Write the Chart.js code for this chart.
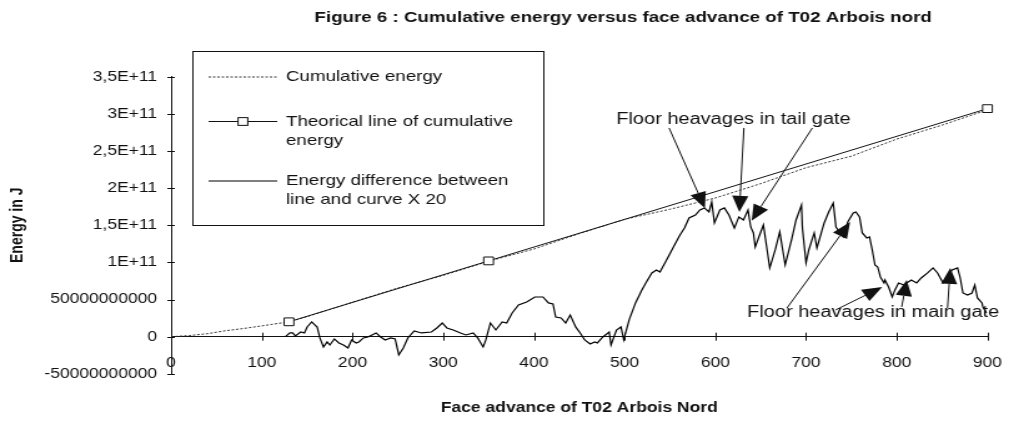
<!DOCTYPE html>
<html>
<head>
<meta charset="utf-8">
<title>Figure 6</title>
<script src="https://cdn.jsdelivr.net/npm/chart.js@4.4.0/dist/chart.umd.min.js"></script>
<style>
  html, body { margin: 0; padding: 0; background: #fff; }
  #energyChart { display: block; }
</style>
</head>
<body>
<!-- the scan is wider than tall, so the 820px canvas is stretched to 1024px -->
<canvas id="energyChart" width="820" height="425" style="width:1024px;height:425px"></canvas>
<script>
const GJ = 1e9;

// Cumulative energy (GJ) against face advance (m)
const cumAdvance = [0, 20, 40, 60, 80, 100, 130, 150, 200, 250, 300, 350, 400, 450, 500, 550, 600, 650, 700, 750, 800, 850, 900];
const cumEnergy = [0, 1.5, 4, 8, 11, 14.5, 20, 27, 46.5, 65.5, 82.5, 101.5, 118, 138.7, 158, 171.5, 186.7, 206, 227.5, 243, 266, 284.8, 305.4];

// Theorical line (GJ)
const theoAdvance = [130, 350, 900];
const theoEnergy = [20, 102, 307];

// Energy difference x 20 (GJ)
const diffAdvance = [
  126, 131, 134, 137, 143, 147, 150, 155, 161, 164,
  168, 172, 175, 180, 185, 190, 195, 199, 204, 207,
  212, 217, 226, 231, 236, 242, 247, 251, 256, 261,
  268, 276, 287, 293, 299, 304, 311, 319, 325, 333,
  338, 344, 347, 352, 358, 365, 370, 376, 383, 392,
  401, 410, 416, 421, 424, 430, 435, 440, 446, 451,
  456, 462, 467, 470, 476, 483, 485, 491, 496, 499,
  505, 512, 519, 524, 530, 535, 539, 542, 548, 555,
  561, 566, 571, 578, 583, 588, 593, 596, 599, 605,
  610, 615, 621, 626, 631, 636, 639, 642, 644, 648,
  653, 660, 666, 671, 677, 684, 689, 695, 696, 700,
  703, 709, 712, 720, 725, 730, 733, 741, 746, 752,
  755, 759, 762, 767, 770, 773, 776, 779, 782, 786,
  787, 791, 795, 798, 802, 808, 811, 816, 822, 827,
  834, 840, 845, 851, 856, 861, 867, 870, 873, 878,
  883, 886, 889, 894, 895, 899
];
const diffEnergy = [
  0, 5, 5, 1, 6.3, 5, 13, 19.8, 13, -1.7,
  -13.9, -7.1, -11.2, -3.1, -8.5, -11.2, -15.2, -4.4, -8.5, -7.1,
  -1.7, -0.4, 5, -0.4, -4.4, -1.7, -3.1, -24.6, -15.2, -1.7,
  7.7, 5, 6.3, 11.7, 18.4, 11.7, 9, 5, 2.3, 5,
  -1.7, -13.9, -4.4, 18.4, 9, 19.8, 18.4, 31.9, 42.7, 46.7,
  53.4, 53.4, 45.4, 44, 26.5, 25.2, 18.4, 29.2, 13.1, 5,
  -4.4, -9.8, -7.1, -8.5, -0.4, 6.3, -11.2, 9, 13.1, -4.4,
  22.5, 45.4, 62.9, 73.6, 85.8, 89.8, 87.1, 93.8, 107.3, 123.5,
  136.9, 146.3, 159.8, 163.8, 170.6, 173.3, 167.9, 181.3, 153.1, 170.6,
  173.3, 163.8, 146.3, 161.2, 157.1, 170.6, 147.7, 139.6, 120.8, 134.2,
  150.4, 92.5, 116.7, 141, 96.5, 130.2, 157.1, 177.3, 146.3, 99.2,
  116.7, 139.6, 119.4, 153.1, 167.9, 180, 147.7, 134.2, 154.4, 166.5,
  167.9, 161.2, 139.6, 132.9, 134.2, 116.7, 96.5, 93.8, 80.4, 72.3,
  76.3, 66.9, 53.4, 62.9, 72.3, 69.6, 72.3, 76.3, 72.3, 79,
  85.8, 92.5, 85.8, 72.3, 80.4, 89.8, 92.5, 79, 58.8, 56.1,
  58.8, 69.6, 52.1, 45.4, 40, 31.9
];

const yTickLabels = ['-50000000000', '0', '50000000000', '1E+11', '1,5E+11', '2E+11', '2,5E+11', '3E+11', '3,5E+11'];

const legendText = [
  ['Cumulative energy'],
  ['Theorical line of cumulative', 'energy'],
  ['Energy difference between', 'line and curve X 20']
];

// annotation text and arrows, in data units [advance, GJ]
const annotations = [
  { text: 'Floor heavages in tail gate', at: [620, 292],
    arrows: [[[549, 281], [588.5, 173]], [[631.5, 281], [626.5, 168]], [[707, 281], [640, 156]]] },
  { text: 'Floor heavages in main gate', at: [774, 32],
    arrows: [[[679, 38.6], [748.6, 154.4]], [[732.5, 35.9], [784, 66.9]], [[805.5, 40], [811, 76.3]], [[856, 38.6], [859, 92.5]]] }
];

const FONT = '"Liberation Sans", Arial, Helvetica, sans-serif';
const INK = '#111';
Chart.defaults.font.family = FONT;
Chart.defaults.color = INK;

function toPoints(xs, ys) {
  return xs.map((x, i) => ({ x: x, y: ys[i] * GJ }));
}

function drawArrow(ctx, x0, y0, x1, y1) {
  const ang = Math.atan2(y1 - y0, x1 - x0);
  const len = 16, half = 6.5;
  const bx = x1 - len * Math.cos(ang), by = y1 - len * Math.sin(ang);
  ctx.beginPath();
  ctx.moveTo(x0, y0);
  ctx.lineTo(bx, by);
  ctx.stroke();
  ctx.beginPath();
  ctx.moveTo(x1, y1);
  ctx.lineTo(bx + half * Math.sin(ang), by - half * Math.cos(ang));
  ctx.lineTo(bx - half * Math.sin(ang), by + half * Math.cos(ang));
  ctx.closePath();
  ctx.fill();
}

const figurePlugin = {
  id: 'figure',
  afterDatasetsDraw(chart) {
    const { ctx, scales: { x, y } } = chart;
    ctx.save();
    ctx.strokeStyle = INK;
    ctx.fillStyle = INK;
    ctx.lineWidth = 1;

    // cross tick marks like the original spreadsheet chart
    const axisY = y.getPixelForValue(0);
    y.ticks.forEach(t => {
      const py = Math.round(y.getPixelForValue(t.value)) + 0.5;
      ctx.beginPath();
      ctx.moveTo(x.left - 3, py);
      ctx.lineTo(x.left + 3, py);
      ctx.stroke();
    });
    x.ticks.forEach(t => {
      const px = Math.round(x.getPixelForValue(t.value)) + 0.5;
      ctx.beginPath();
      ctx.moveTo(px, axisY - 4);
      ctx.lineTo(px, axisY + 4);
      ctx.stroke();
    });

    ctx.font = '16px ' + FONT;
    ctx.textAlign = 'center';
    ctx.textBaseline = 'middle';
    annotations.forEach(a => {
      a.arrows.forEach(([from, to]) => {
        drawArrow(ctx,
          x.getPixelForValue(from[0]), y.getPixelForValue(from[1] * GJ),
          x.getPixelForValue(to[0]), y.getPixelForValue(to[1] * GJ));
      });
      ctx.fillText(a.text, x.getPixelForValue(a.at[0]), y.getPixelForValue(a.at[1] * GJ));
    });
    ctx.restore();
  },
  afterDraw(chart) {
    const { ctx, chartArea, data } = chart;
    ctx.save();
    ctx.fillStyle = INK;
    ctx.textBaseline = 'middle';

    // titles
    ctx.textAlign = 'center';
    ctx.font = 'bold 15px ' + FONT;
    ctx.fillText('Figure 6 : Cumulative energy versus face advance of T02 Arbois nord', 499, 18);
    ctx.font = 'bold 14px ' + FONT;
    ctx.fillText('Face advance of T02 Arbois Nord', (chartArea.left + chartArea.right) / 2, 408);

    // legend box
    const box = { left: 154, top: 51, width: 281, height: 174 };
    const rowY = [77, 121.5, 181];
    ctx.fillStyle = '#fff';
    ctx.fillRect(box.left, box.top, box.width, box.height);
    ctx.strokeStyle = INK;
    ctx.lineWidth = 1;
    ctx.strokeRect(box.left + 0.5, box.top + 0.5, box.width, box.height);

    ctx.textAlign = 'left';
    ctx.font = '15px ' + FONT;
    legendText.forEach((lines, i) => {
      const ds = data.datasets[i];
      const ly = rowY[i];
      ctx.save();
      ctx.strokeStyle = ds.borderColor;
      ctx.lineWidth = ds.borderWidth;
      ctx.setLineDash(ds.borderDash || []);
      ctx.beginPath();
      ctx.moveTo(167, ly);
      ctx.lineTo(222, ly);
      ctx.stroke();
      ctx.restore();
      if (ds.pointRadius > 0) {
        const s = ds.pointRadius * Math.SQRT1_2;
        ctx.fillStyle = ds.pointBackgroundColor;
        ctx.fillRect(194.5 - s, ly - s, 2 * s, 2 * s);
        ctx.strokeStyle = ds.pointBorderColor;
        ctx.lineWidth = ds.pointBorderWidth;
        ctx.strokeRect(194.5 - s, ly - s, 2 * s, 2 * s);
      }
      ctx.fillStyle = INK;
      lines.forEach((line, j) => ctx.fillText(line, 229, ly + j * 19));
    });
    ctx.restore();
  }
};

new Chart(document.getElementById('energyChart'), {
  type: 'line',
  data: {
    datasets: [
      {
        label: 'Cumulative energy',
        data: toPoints(cumAdvance, cumEnergy),
        borderColor: '#333',
        borderWidth: 1,
        borderDash: [2, 1.5],
        pointRadius: 0,
        order: 1
      },
      {
        label: 'Theorical line of cumulative energy',
        data: toPoints(theoAdvance, theoEnergy),
        borderColor: INK,
        borderWidth: 1,
        pointStyle: 'rect',
        pointRadius: 5.5,
        pointBackgroundColor: '#fff',
        pointBorderColor: INK,
        pointBorderWidth: 1,
        clip: false,
        order: 0
      },
      {
        label: 'Energy difference between line and curve X 20',
        data: toPoints(diffAdvance, diffEnergy),
        borderColor: '#000',
        borderWidth: 1.2,
        pointRadius: 0,
        order: 2
      }
    ]
  },
  options: {
    responsive: false,
    devicePixelRatio: 1,
    animation: false,
    layout: { padding: { top: 76.7, right: 13.2, bottom: 51.2, left: 0 } },
    scales: {
      x: {
        type: 'linear',
        position: { y: 0 },
        min: 0,
        max: 900,
        afterFit(scale) { scale.height = 0; },
        ticks: { stepSize: 100, padding: 17.6, maxRotation: 0, autoSkip: false, color: INK, font: { size: 14 } },
        grid: { display: false, drawTicks: false },
        border: { display: true, color: INK, width: 1 }
      },
      y: {
        type: 'linear',
        position: 'left',
        min: -5e10,
        max: 3.5e11,
        afterFit(scale) { scale.width = 137; },
        ticks: {
          stepSize: 5e10,
          padding: 11.2,
          color: INK,
          font: { size: 14 },
          callback: (value, index) => yTickLabels[index]
        },
        grid: { display: false, drawTicks: false },
        border: { display: true, color: INK, width: 1 },
        title: {
          display: true,
          text: 'Energy in J',
          color: INK,
          font: { size: 14, weight: 'bold' },
          padding: { top: 5.6, bottom: 0 }
        }
      }
    },
    plugins: {
      legend: { display: false },
      tooltip: { enabled: false }
    }
  },
  plugins: [figurePlugin]
});
</script>
</body>
</html>
